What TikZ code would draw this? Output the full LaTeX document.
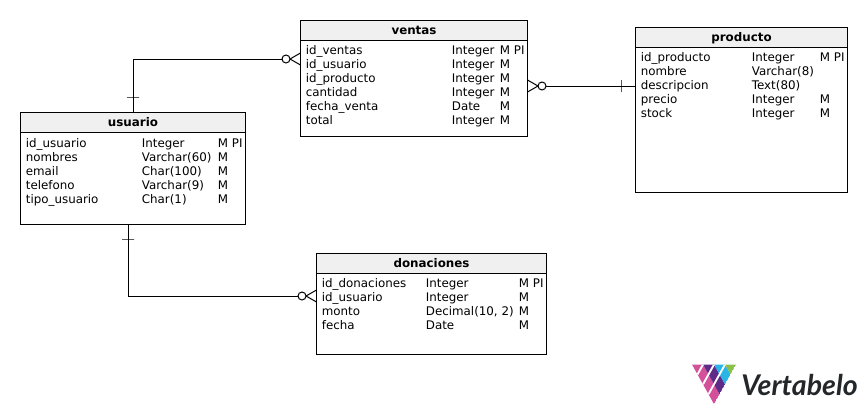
\documentclass[tikz,border=0pt]{standalone}
\usepackage{fontspec}
\setmainfont{DejaVu Sans}
\newfontfamily\logofont{Lato}
\definecolor{headgray}{HTML}{F0F0F0}
\definecolor{logopink}{HTML}{D3509A}
\definecolor{logopurple}{HTML}{5E2B88}
\definecolor{logocyan}{HTML}{2BB5E6}
\definecolor{logogreen}{HTML}{8DC04B}
\definecolor{logotext}{HTML}{23272A}
\tikzset{
  tablebox/.style={draw, line width=0.75pt, outer sep=0pt, inner sep=0pt, fill=white},
  headbox/.style={draw, line width=0.75pt, outer sep=0pt, inner sep=0pt, fill=headgray, minimum height=15pt, text height=8.3pt, text depth=2pt, font=\bfseries\fontsize{8.9}{10}\selectfont},
  coltext/.style={anchor=base west, inner sep=0pt, xshift=-0.3pt, yshift=-0.3pt, font=\fontsize{8.9}{10.5}\selectfont},
  conn/.style={line width=0.75pt},
  ringmark/.style={draw, circle, line width=0.75pt, fill=white, minimum size=6pt, inner sep=0pt, outer sep=0pt},
  hbar/.style={draw, line width=0.75pt, minimum width=9pt, minimum height=0pt, inner sep=0pt, outer sep=0pt},
  vbar/.style={draw, line width=0.75pt, minimum width=0pt, minimum height=9pt, inner sep=0pt, outer sep=0pt},
}
\begin{document}
\begin{tikzpicture}[x=0.75pt,y=-0.75pt]
  \useasboundingbox (0,0) rectangle (867,414);
  % tables
  \node[tablebox, minimum width=168.75pt, minimum height=84pt] (usuario) at (133,168.5) {};
  \node[tablebox, minimum width=170.25pt, minimum height=86.6pt] (ventas) at (414,78.3) {};
  \node[tablebox, minimum width=159pt, minimum height=123.4pt] (producto) at (741.5,109.8) {};
  \node[tablebox, minimum width=172.5pt, minimum height=75.4pt] (donaciones) at (431.5,303.8) {};
  % table titles
  \node[headbox, minimum width=168.75pt, anchor=north] (usuarioHead) at (usuario.north) {usuario};
  \node[headbox, minimum width=170.25pt, anchor=north] (ventasHead) at (ventas.north) {ventas};
  \node[headbox, minimum width=159pt, anchor=north] (productoHead) at (producto.north) {producto};
  \node[headbox, minimum width=172.5pt, anchor=north] (donacionesHead) at (donaciones.north) {donaciones};
  % usuario rows
  \foreach \rowy/\colname/\coltype in {147.5/id\_usuario/Integer, 161.5/nombres/Varchar(60), 175.5/email/Char(100), 189.5/telefono/Varchar(9), 203.5/tipo\_usuario/Char(1)} {
    \node[coltext] (usuarioName\rowy) at (26,\rowy) {\colname};
    \node[coltext] (usuarioType\rowy) at (142,\rowy) {\coltype};
    \node[coltext] (usuarioMand\rowy) at (218,\rowy) {M};
  }
  \node[coltext] (usuarioKey) at (232,147.5) {PI};
  % ventas rows
  \foreach \rowy/\colname/\coltype in {54.5/id\_ventas/Integer, 68.5/id\_usuario/Integer, 82.5/id\_producto/Integer, 96.5/cantidad/Integer, 110.5/fecha\_venta/Date, 124.5/total/Integer} {
    \node[coltext] (ventasName\rowy) at (306,\rowy) {\colname};
    \node[coltext] (ventasType\rowy) at (452,\rowy) {\coltype};
    \node[coltext] (ventasMand\rowy) at (500,\rowy) {M};
  }
  \node[coltext] (ventasKey) at (514,54.5) {PI};
  % producto rows
  \foreach \rowy/\colname/\coltype in {61.5/id\_producto/Integer, 75.5/nombre/Varchar(8), 89.5/descripcion/Text(80), 103.5/precio/Integer, 117.5/stock/Integer} {
    \node[coltext] (productoName\rowy) at (641,\rowy) {\colname};
    \node[coltext] (productoType\rowy) at (752,\rowy) {\coltype};
  }
  \node[coltext] (productoMandA) at (820,61.5) {M};
  \node[coltext] (productoMandB) at (820,103.5) {M};
  \node[coltext] (productoMandC) at (820,117.5) {M};
  \node[coltext] (productoKey) at (834,61.5) {PI};
  % donaciones rows
  \foreach \rowy/\colname/\coltype in {287.5/id\_donaciones/Integer, 301.5/id\_usuario/Integer, 315.5/monto/{Decimal(10, 2)}, 329.5/fecha/Date} {
    \node[coltext] (donacionesName\rowy) at (322,\rowy) {\colname};
    \node[coltext] (donacionesType\rowy) at (426,\rowy) {\coltype};
    \node[coltext] (donacionesMand\rowy) at (519,\rowy) {M};
  }
  \node[coltext] (donacionesKey) at (533,287.5) {PI};
  % connector ends
  \coordinate (ventasUp) at (300.5,53);
  \coordinate (ventasDown) at (300.5,65);
  \coordinate (ventasOutUp) at (527.5,80);
  \coordinate (ventasOutDown) at (527.5,92);
  \coordinate (productoIn) at (635.5,86);
  \coordinate (donacionesUp) at (316.5,290);
  \coordinate (donacionesDown) at (316.5,302);
  \coordinate (usuarioOut) at (128,224.5);
  % rings and bars
  \node[ringmark] (ringVentas) at (286,59) {};
  \node[ringmark] (ringProducto) at (542,86) {};
  \node[ringmark] (ringDonaciones) at (302,296) {};
  % usuario - ventas
  \draw[conn] (usuario.north) |- (ringVentas);
  \draw[conn] (ringVentas.east) -- (ventasUp);
  \draw[conn] (ringVentas.east) -- (ventasDown);
  \node[hbar] (barUsuarioTop) at (133,97) {};
  % ventas - producto
  \draw[conn] (ringProducto) -- (productoIn);
  \draw[conn] (ringProducto.west) -- (ventasOutUp);
  \draw[conn] (ringProducto.west) -- (ventasOutDown);
  \node[vbar] (barProducto) at (621,86) {};
  % usuario - donaciones
  \draw[conn] (usuarioOut) |- (ringDonaciones);
  \draw[conn] (ringDonaciones.east) -- (donacionesUp);
  \draw[conn] (ringDonaciones.east) -- (donacionesDown);
  \node[hbar] (barUsuarioBottom) at (128,239) {};
  % logo
  \begin{scope}[shift={(692,364.5)}, x={(4.125pt,-7.425pt)}, y={(4.125pt,7.425pt)}]
    \clip (0,0) -- (4,0) -- (4,4) -- cycle;
    \foreach \s/\b/\c in {0/0/logopink, 1/0/logopink, 1/1/logopurple, 2/0/logopink, 2/1/logopurple, 2/2/logocyan,
        3/0/logopink, 3/1/logopurple, 3/2/logocyan, 3/3/logogreen}
      \fill[\c] (\s,\b) -- ++(1,0) -- ++(0,1) -- ++(-1,0) -- cycle;
    \foreach \s in {1,2,3}
      \draw[white, line width=1.4pt] (\s,0) -- (\s,4);
  \end{scope}
  \node[anchor=base west, inner sep=0pt, text=logotext, font=\logofont\bfseries\itshape\fontsize{21.4}{24}\selectfont] (logoText) at (741,395) {Vertabelo};
\end{tikzpicture}
\end{document}
